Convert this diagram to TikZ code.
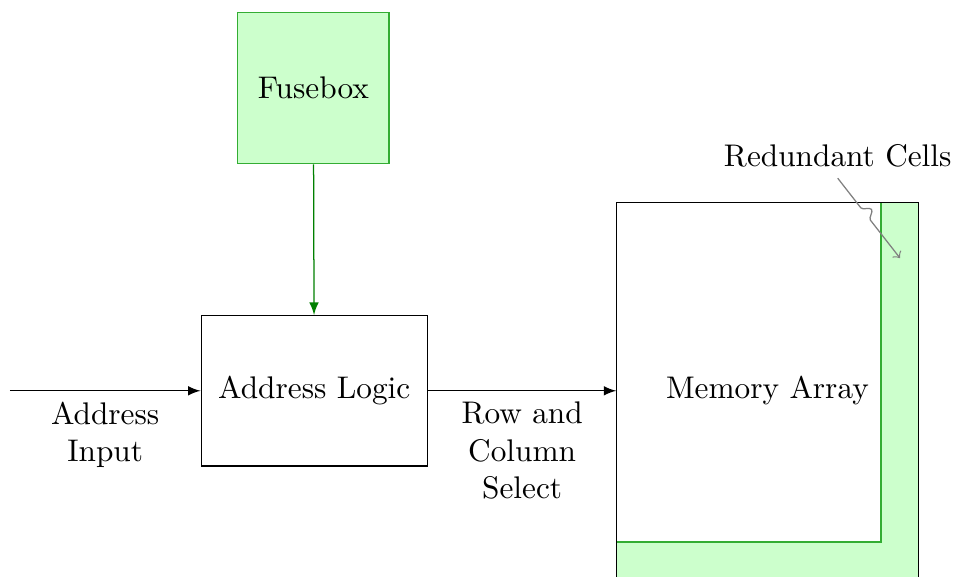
\documentclass[tikz,border=0pt]{standalone}
\usepackage{amssymb}
\usepackage{amsmath}
\usepackage{tikz}
\usetikzlibrary{arrows,decorations.pathmorphing}
\tikzset{
  blocknode/.style = {align=center, draw=black, text centered},
  fusenode/.style = {blocknode, draw=green!60!black!80, fill=green!20,
    minimum width=1.7cm, minimum height=1.7cm},% boite des fusibles
  logicnode/.style = {blocknode, minimum width=2.54cm, minimum height=1.69cm},
  memnode/.style = {align=center, minimum width=3.38cm, minimum height=4.22cm},
  sparecells/.style = {fill=green!20, draw=green!60!black!80},% cellules redondantes
  labelnode/.style = {align=center, below},
  snakearrow/.style = {-to, gray, decorate, decoration={snake, amplitude=2.4pt,
    segment length=8pt, pre length=12pt, post length=12pt}}
}
\begin{document}
\begin{tikzpicture}[>=latex]
\useasboundingbox (0,0) rectangle (10.75,-6.48);
\node [fusenode] (fuse) at (3.52,-0.99) {Fusebox};
\node [logicnode] (logic) at (3.53,-4.39) {Address Logic};
\node [memnode] (mem) at (8.62,-4.39) {Memory Array};
\coordinate (in) at (0.11,-4.39);
% L redondant
\filldraw [sparecells] (mem.north east) -- ([xshift=-0.42cm]mem.north east)
  |- ([yshift=0.42cm]mem.south west) -- (mem.south west) -- (mem.south east) -- cycle;
\draw (mem.south west) rectangle (mem.north east);
\node (spare) at (9.41,-1.75) {Redundant Cells};
\coordinate (cellpt) at (10.11,-2.90);
\draw [->, green!50!black] (fuse) -- (logic);
\draw [->] (in) -- (logic) node [labelnode, midway] {Address\\Input};
\draw [->] (logic) -- (mem.west) node [labelnode, midway] {Row and\\Column\\Select};
\draw [snakearrow] (spare.south) -- (cellpt);
\end{tikzpicture}
\end{document}
